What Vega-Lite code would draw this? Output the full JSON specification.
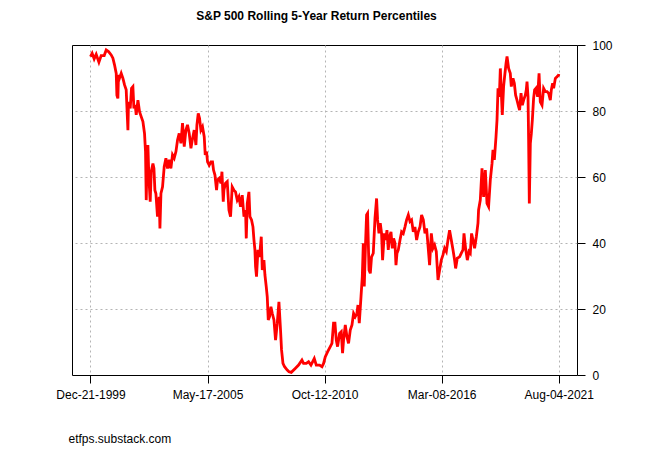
{
  "$schema": "https://vega.github.io/schema/vega-lite/v6.json",
  "width": 505,
  "height": 330,
  "autosize": {"type": "none"},
  "padding": {"left": 72, "top": 45, "right": 73, "bottom": 75},
  "background": "white",
  "title": {
    "text": "S&P 500 Rolling 5-Year Return Percentiles",
    "font": "Liberation Sans",
    "fontSize": 12,
    "fontWeight": "bold",
    "color": "black",
    "anchor": "middle",
    "offset": 16,
    "dx": -8
  },
  "config": {
    "view": {"stroke": "#000000", "strokeWidth": 1},
    "axis": {
      "labelFont": "Liberation Sans",
      "titleFont": "Liberation Sans",
      "labelFontSize": 12,
      "labelColor": "black",
      "tickColor": "black",
      "gridColor": "#b4b4b4",
      "gridDash": [2, 3],
      "gridWidth": 1,
      "domain": false
    }
  },
  "data": {
    "values": [
      {"date": "1999-12-21", "pct": 96.5},
      {"date": "2000-01-18", "pct": 97.5},
      {"date": "2000-02-21", "pct": 95.8},
      {"date": "2000-03-26", "pct": 97.2},
      {"date": "2000-05-11", "pct": 94.8},
      {"date": "2000-06-18", "pct": 96.8},
      {"date": "2000-08-08", "pct": 96.8},
      {"date": "2000-09-11", "pct": 98.5},
      {"date": "2000-10-20", "pct": 98.0},
      {"date": "2000-12-04", "pct": 97.0},
      {"date": "2001-01-02", "pct": 96.0},
      {"date": "2001-01-29", "pct": 94.0},
      {"date": "2001-02-27", "pct": 91.4},
      {"date": "2001-03-10", "pct": 84.8},
      {"date": "2001-03-27", "pct": 83.8},
      {"date": "2001-04-06", "pct": 90.9},
      {"date": "2001-04-23", "pct": 89.9},
      {"date": "2001-05-22", "pct": 91.4},
      {"date": "2001-06-20", "pct": 89.9},
      {"date": "2001-07-17", "pct": 87.9},
      {"date": "2001-08-14", "pct": 86.4},
      {"date": "2001-09-12", "pct": 74.2},
      {"date": "2001-09-22", "pct": 82.8},
      {"date": "2001-10-21", "pct": 80.8},
      {"date": "2001-11-12", "pct": 86.9},
      {"date": "2001-12-05", "pct": 87.4},
      {"date": "2001-12-22", "pct": 80.8},
      {"date": "2002-01-13", "pct": 81.8},
      {"date": "2002-01-30", "pct": 78.8},
      {"date": "2002-02-28", "pct": 83.3},
      {"date": "2002-03-27", "pct": 79.8},
      {"date": "2002-04-24", "pct": 78.3},
      {"date": "2002-05-23", "pct": 76.8},
      {"date": "2002-06-19", "pct": 73.2},
      {"date": "2002-07-06", "pct": 67.7},
      {"date": "2002-07-18", "pct": 53.0},
      {"date": "2002-08-04", "pct": 67.7},
      {"date": "2002-08-15", "pct": 69.7},
      {"date": "2002-09-01", "pct": 59.7},
      {"date": "2002-09-23", "pct": 52.5},
      {"date": "2002-10-10", "pct": 61.6},
      {"date": "2002-11-08", "pct": 64.1},
      {"date": "2002-11-25", "pct": 62.6},
      {"date": "2002-12-11", "pct": 56.0},
      {"date": "2002-12-28", "pct": 55.0},
      {"date": "2003-01-24", "pct": 48.0},
      {"date": "2003-02-22", "pct": 54.0},
      {"date": "2003-03-06", "pct": 44.4},
      {"date": "2003-03-23", "pct": 55.0},
      {"date": "2003-04-19", "pct": 57.0},
      {"date": "2003-05-17", "pct": 63.1},
      {"date": "2003-06-15", "pct": 65.7},
      {"date": "2003-07-12", "pct": 62.6},
      {"date": "2003-08-10", "pct": 65.2},
      {"date": "2003-09-07", "pct": 62.6},
      {"date": "2003-10-04", "pct": 66.7},
      {"date": "2003-11-02", "pct": 65.7},
      {"date": "2003-12-01", "pct": 67.7},
      {"date": "2003-12-28", "pct": 71.2},
      {"date": "2004-01-25", "pct": 73.2},
      {"date": "2004-02-23", "pct": 70.2},
      {"date": "2004-03-21", "pct": 76.3},
      {"date": "2004-04-19", "pct": 69.2},
      {"date": "2004-05-17", "pct": 74.2},
      {"date": "2004-06-13", "pct": 75.8},
      {"date": "2004-07-12", "pct": 73.2},
      {"date": "2004-08-10", "pct": 68.7},
      {"date": "2004-09-06", "pct": 71.7},
      {"date": "2004-10-04", "pct": 74.2},
      {"date": "2004-11-02", "pct": 69.7},
      {"date": "2004-11-19", "pct": 75.8},
      {"date": "2004-12-11", "pct": 79.3},
      {"date": "2005-01-02", "pct": 77.8},
      {"date": "2005-01-25", "pct": 74.2},
      {"date": "2005-02-21", "pct": 75.2},
      {"date": "2005-03-22", "pct": 72.2},
      {"date": "2005-04-08", "pct": 66.7},
      {"date": "2005-04-30", "pct": 67.7},
      {"date": "2005-05-17", "pct": 64.6},
      {"date": "2005-06-14", "pct": 63.6},
      {"date": "2005-07-13", "pct": 64.6},
      {"date": "2005-08-09", "pct": 64.6},
      {"date": "2005-08-26", "pct": 62.1},
      {"date": "2005-09-19", "pct": 60.6},
      {"date": "2005-10-16", "pct": 56.0},
      {"date": "2005-11-01", "pct": 59.1},
      {"date": "2005-11-30", "pct": 59.6},
      {"date": "2005-12-29", "pct": 58.1},
      {"date": "2006-01-15", "pct": 61.6},
      {"date": "2006-02-06", "pct": 52.5},
      {"date": "2006-02-17", "pct": 56.0},
      {"date": "2006-03-16", "pct": 58.1},
      {"date": "2006-04-14", "pct": 58.6},
      {"date": "2006-05-13", "pct": 50.0},
      {"date": "2006-06-09", "pct": 48.0},
      {"date": "2006-07-07", "pct": 57.0},
      {"date": "2006-08-05", "pct": 56.0},
      {"date": "2006-09-01", "pct": 55.5},
      {"date": "2006-09-30", "pct": 53.0},
      {"date": "2006-10-28", "pct": 54.0},
      {"date": "2006-11-25", "pct": 51.0},
      {"date": "2006-12-23", "pct": 54.5},
      {"date": "2007-01-21", "pct": 48.0},
      {"date": "2007-02-17", "pct": 50.0},
      {"date": "2007-03-01", "pct": 41.4},
      {"date": "2007-03-18", "pct": 52.0},
      {"date": "2007-04-15", "pct": 55.5},
      {"date": "2007-05-02", "pct": 48.0},
      {"date": "2007-05-29", "pct": 47.0},
      {"date": "2007-06-22", "pct": 44.9},
      {"date": "2007-07-09", "pct": 40.9},
      {"date": "2007-07-25", "pct": 37.9},
      {"date": "2007-08-05", "pct": 32.8},
      {"date": "2007-08-21", "pct": 29.8},
      {"date": "2007-09-14", "pct": 37.9},
      {"date": "2007-10-11", "pct": 35.8},
      {"date": "2007-11-09", "pct": 41.9},
      {"date": "2007-11-26", "pct": 31.8},
      {"date": "2007-12-24", "pct": 34.8},
      {"date": "2008-01-10", "pct": 30.3},
      {"date": "2008-02-01", "pct": 26.8},
      {"date": "2008-02-18", "pct": 23.7},
      {"date": "2008-03-06", "pct": 16.7},
      {"date": "2008-03-28", "pct": 17.7},
      {"date": "2008-04-20", "pct": 20.7},
      {"date": "2008-05-12", "pct": 18.7},
      {"date": "2008-06-10", "pct": 16.7},
      {"date": "2008-07-07", "pct": 10.6},
      {"date": "2008-08-05", "pct": 15.7},
      {"date": "2008-09-02", "pct": 22.2},
      {"date": "2008-09-29", "pct": 13.6},
      {"date": "2008-10-16", "pct": 7.6},
      {"date": "2008-11-09", "pct": 3.5},
      {"date": "2008-12-06", "pct": 2.5},
      {"date": "2009-01-20", "pct": 1.5},
      {"date": "2009-02-18", "pct": 1.0},
      {"date": "2009-03-29", "pct": 0.8},
      {"date": "2009-06-04", "pct": 2.0},
      {"date": "2009-07-30", "pct": 3.0},
      {"date": "2009-09-25", "pct": 4.5},
      {"date": "2009-10-22", "pct": 3.5},
      {"date": "2009-12-07", "pct": 3.5},
      {"date": "2010-01-15", "pct": 4.0},
      {"date": "2010-02-24", "pct": 3.0},
      {"date": "2010-04-21", "pct": 5.0},
      {"date": "2010-05-25", "pct": 3.0},
      {"date": "2010-07-19", "pct": 3.0},
      {"date": "2010-08-29", "pct": 2.5},
      {"date": "2010-09-25", "pct": 3.5},
      {"date": "2010-10-23", "pct": 5.5},
      {"date": "2010-12-01", "pct": 7.0},
      {"date": "2011-01-16", "pct": 8.6},
      {"date": "2011-02-13", "pct": 9.6},
      {"date": "2011-03-12", "pct": 15.7},
      {"date": "2011-04-05", "pct": 15.7},
      {"date": "2011-04-27", "pct": 10.6},
      {"date": "2011-05-19", "pct": 8.6},
      {"date": "2011-06-22", "pct": 12.6},
      {"date": "2011-07-20", "pct": 13.1},
      {"date": "2011-08-11", "pct": 6.6},
      {"date": "2011-08-28", "pct": 10.6},
      {"date": "2011-09-26", "pct": 15.2},
      {"date": "2011-10-24", "pct": 11.6},
      {"date": "2011-11-20", "pct": 9.6},
      {"date": "2011-12-19", "pct": 13.6},
      {"date": "2012-01-17", "pct": 15.2},
      {"date": "2012-02-13", "pct": 18.7},
      {"date": "2012-03-12", "pct": 17.7},
      {"date": "2012-04-10", "pct": 18.7},
      {"date": "2012-04-27", "pct": 21.2},
      {"date": "2012-05-19", "pct": 15.7},
      {"date": "2012-06-17", "pct": 23.7},
      {"date": "2012-07-09", "pct": 29.8},
      {"date": "2012-07-26", "pct": 39.9},
      {"date": "2012-08-11", "pct": 26.8},
      {"date": "2012-09-02", "pct": 39.9},
      {"date": "2012-09-19", "pct": 48.5},
      {"date": "2012-10-06", "pct": 49.0},
      {"date": "2012-10-30", "pct": 31.8},
      {"date": "2012-11-21", "pct": 30.8},
      {"date": "2012-12-12", "pct": 35.8},
      {"date": "2013-01-10", "pct": 36.9},
      {"date": "2013-02-08", "pct": 47.5},
      {"date": "2013-03-07", "pct": 53.5},
      {"date": "2013-03-24", "pct": 47.0},
      {"date": "2013-04-16", "pct": 42.9},
      {"date": "2013-05-08", "pct": 46.0},
      {"date": "2013-05-30", "pct": 42.9},
      {"date": "2013-06-16", "pct": 34.8},
      {"date": "2013-07-15", "pct": 42.9},
      {"date": "2013-08-06", "pct": 40.9},
      {"date": "2013-08-29", "pct": 43.9},
      {"date": "2013-09-20", "pct": 37.9},
      {"date": "2013-10-12", "pct": 41.9},
      {"date": "2013-11-05", "pct": 43.4},
      {"date": "2013-11-27", "pct": 38.4},
      {"date": "2013-12-19", "pct": 41.4},
      {"date": "2014-01-11", "pct": 39.9},
      {"date": "2014-01-28", "pct": 33.3},
      {"date": "2014-02-14", "pct": 36.9},
      {"date": "2014-03-08", "pct": 37.9},
      {"date": "2014-04-06", "pct": 40.9},
      {"date": "2014-05-03", "pct": 43.4},
      {"date": "2014-05-31", "pct": 42.9},
      {"date": "2014-06-29", "pct": 44.9},
      {"date": "2014-07-26", "pct": 47.0},
      {"date": "2014-08-24", "pct": 48.5},
      {"date": "2014-09-21", "pct": 46.5},
      {"date": "2014-10-18", "pct": 47.0},
      {"date": "2014-11-16", "pct": 43.4},
      {"date": "2014-12-14", "pct": 44.9},
      {"date": "2015-01-11", "pct": 40.9},
      {"date": "2015-02-08", "pct": 43.4},
      {"date": "2015-03-09", "pct": 44.9},
      {"date": "2015-04-05", "pct": 48.5},
      {"date": "2015-05-04", "pct": 47.0},
      {"date": "2015-06-01", "pct": 42.9},
      {"date": "2015-06-28", "pct": 44.4},
      {"date": "2015-07-15", "pct": 40.9},
      {"date": "2015-08-18", "pct": 33.3},
      {"date": "2015-09-16", "pct": 42.9},
      {"date": "2015-10-14", "pct": 38.4},
      {"date": "2015-11-10", "pct": 39.4},
      {"date": "2015-12-09", "pct": 37.4},
      {"date": "2016-01-07", "pct": 28.8},
      {"date": "2016-02-03", "pct": 31.8},
      {"date": "2016-03-02", "pct": 34.8},
      {"date": "2016-03-31", "pct": 36.4},
      {"date": "2016-04-27", "pct": 38.4},
      {"date": "2016-05-26", "pct": 37.4},
      {"date": "2016-06-23", "pct": 40.9},
      {"date": "2016-07-20", "pct": 43.9},
      {"date": "2016-08-18", "pct": 40.9},
      {"date": "2016-09-16", "pct": 37.9},
      {"date": "2016-10-13", "pct": 34.8},
      {"date": "2016-10-30", "pct": 32.3},
      {"date": "2016-11-27", "pct": 35.4},
      {"date": "2017-01-05", "pct": 35.8},
      {"date": "2017-02-03", "pct": 36.9},
      {"date": "2017-03-03", "pct": 37.9},
      {"date": "2017-03-20", "pct": 42.9},
      {"date": "2017-04-16", "pct": 38.4},
      {"date": "2017-05-15", "pct": 34.8},
      {"date": "2017-06-13", "pct": 37.4},
      {"date": "2017-07-04", "pct": 36.9},
      {"date": "2017-07-26", "pct": 42.9},
      {"date": "2017-08-19", "pct": 40.9},
      {"date": "2017-09-15", "pct": 38.4},
      {"date": "2017-10-14", "pct": 41.9},
      {"date": "2017-11-11", "pct": 46.0},
      {"date": "2017-11-21", "pct": 50.0},
      {"date": "2017-12-20", "pct": 53.0},
      {"date": "2018-01-18", "pct": 62.6},
      {"date": "2018-02-14", "pct": 54.0},
      {"date": "2018-03-15", "pct": 62.1},
      {"date": "2018-04-12", "pct": 52.0},
      {"date": "2018-05-09", "pct": 51.0},
      {"date": "2018-06-07", "pct": 59.1},
      {"date": "2018-07-06", "pct": 64.1},
      {"date": "2018-07-22", "pct": 68.2},
      {"date": "2018-08-14", "pct": 65.2},
      {"date": "2018-09-11", "pct": 72.2},
      {"date": "2018-09-28", "pct": 77.3},
      {"date": "2018-10-15", "pct": 86.9},
      {"date": "2018-11-06", "pct": 84.3},
      {"date": "2018-11-23", "pct": 92.9},
      {"date": "2018-12-10", "pct": 85.4},
      {"date": "2018-12-26", "pct": 78.8},
      {"date": "2019-01-17", "pct": 87.4},
      {"date": "2019-02-03", "pct": 90.4},
      {"date": "2019-02-27", "pct": 94.4},
      {"date": "2019-03-16", "pct": 96.5},
      {"date": "2019-04-12", "pct": 92.9},
      {"date": "2019-05-10", "pct": 91.4},
      {"date": "2019-05-27", "pct": 87.4},
      {"date": "2019-06-25", "pct": 89.9},
      {"date": "2019-07-17", "pct": 88.4},
      {"date": "2019-08-08", "pct": 84.8},
      {"date": "2019-08-31", "pct": 83.3},
      {"date": "2019-09-27", "pct": 81.3},
      {"date": "2019-10-14", "pct": 80.3},
      {"date": "2019-11-07", "pct": 85.4},
      {"date": "2019-11-29", "pct": 81.8},
      {"date": "2019-12-21", "pct": 83.3},
      {"date": "2020-01-18", "pct": 84.8},
      {"date": "2020-02-04", "pct": 86.4},
      {"date": "2020-02-16", "pct": 88.9},
      {"date": "2020-03-04", "pct": 84.3},
      {"date": "2020-03-14", "pct": 71.2},
      {"date": "2020-03-26", "pct": 52.0},
      {"date": "2020-04-12", "pct": 70.2},
      {"date": "2020-04-29", "pct": 73.2},
      {"date": "2020-05-16", "pct": 77.3},
      {"date": "2020-06-06", "pct": 83.8},
      {"date": "2020-06-23", "pct": 86.4},
      {"date": "2020-07-17", "pct": 86.9},
      {"date": "2020-08-13", "pct": 84.3},
      {"date": "2020-09-06", "pct": 91.4},
      {"date": "2020-09-27", "pct": 82.8},
      {"date": "2020-10-26", "pct": 81.8},
      {"date": "2020-11-22", "pct": 86.9},
      {"date": "2020-12-21", "pct": 85.9},
      {"date": "2021-01-19", "pct": 85.9},
      {"date": "2021-02-14", "pct": 85.4},
      {"date": "2021-03-15", "pct": 83.3},
      {"date": "2021-04-01", "pct": 86.4},
      {"date": "2021-04-23", "pct": 88.4},
      {"date": "2021-05-10", "pct": 86.9},
      {"date": "2021-06-08", "pct": 89.9},
      {"date": "2021-07-06", "pct": 90.4},
      {"date": "2021-08-02", "pct": 90.9},
      {"date": "2021-08-04", "pct": 91.2}
    ]
  },
  "mark": {"type": "line", "color": "#ff0000", "strokeWidth": 2.8, "clip": true},
  "encoding": {
    "x": {
      "field": "date",
      "type": "temporal",
      "scale": {"domain": ["1999-02-12", "2022-06-08"]},
      "axis": {
        "values": [
          {"year": 1999, "month": 12, "date": 21},
          {"year": 2005, "month": 5, "date": 17},
          {"year": 2010, "month": 10, "date": 12},
          {"year": 2016, "month": 3, "date": 8},
          {"year": 2021, "month": 8, "date": 4}
        ],
        "format": "%b-%d-%Y",
        "tickSize": 8,
        "labelPadding": 6,
        "labelFlush": false,
        "labelOverlap": false,
        "grid": true,
        "title": "etfps.substack.com",
        "titleFontSize": 12,
        "titleFontWeight": "normal",
        "titleColor": "black",
        "titleAlign": "left",
        "titleBaseline": "top",
        "titleX": -4,
        "titleY": 58
      }
    },
    "y": {
      "field": "pct",
      "type": "quantitative",
      "scale": {"domain": [0, 100], "nice": false, "zero": true},
      "axis": {
        "orient": "right",
        "values": [0, 20, 40, 60, 80, 100],
        "tickSize": 8,
        "labelPadding": 7,
        "grid": true,
        "gridOpacity": {"condition": {"test": "datum.value == 0 || datum.value == 100", "value": 0}, "value": 1},
        "title": null
      }
    }
  }
}
